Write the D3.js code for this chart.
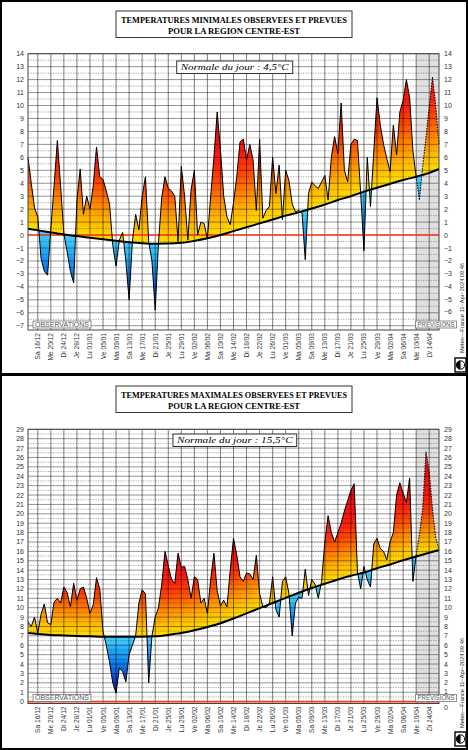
<!DOCTYPE html>
<html><head><meta charset="utf-8">
<script src="https://cdn.jsdelivr.net/npm/d3@7"></script>
<style>body{margin:0;background:#fff} svg{display:block}</style>
</head><body>
<svg id="c" width="468" height="750"></svg>
<script>
// ---------- DATA ----------
const firstDay = -3;   // day index of first value (0 = 16/12/2023)
const lastDay = 123;
const forecastStart = 116;
const dateLabels = ["Sa 16/12","Me 20/12","Di 24/12","Je 28/12","Lu 01/01","Ve 05/01","Ma 09/01","Sa 13/01","Me 17/01","Di 21/01","Je 25/01","Lu 29/01","Ve 02/02","Ma 06/02","Sa 10/02","Me 14/02","Di 18/02","Je 22/02","Lu 26/02","Ve 01/03","Ma 05/03","Sa 09/03","Me 13/03","Di 17/03","Je 21/03","Lu 25/03","Ve 29/03","Ma 02/04","Sa 06/04","Me 10/04","Di 14/04"];
const tminValues = [6.0,4.0,2.1,1.4,-1.8,-2.8,-3.1,0.5,3.8,7.3,3.8,0.1,-1.3,-2.8,-3.7,2.7,5.1,1.6,3.0,2.0,3.8,6.8,4.5,4.3,3.4,2.4,-0.8,-2.4,-0.4,0.2,-2.0,-5.0,-0.5,1.6,0.4,3.0,4.5,-0.5,-2.0,-5.8,-0.6,2.9,4.5,3.6,3.4,3.0,-0.5,5.3,3.0,-0.4,3.5,5.0,0.0,1.0,0.9,-0.3,3.0,6.0,9.5,6.6,3.0,1.4,0.8,2.5,4.5,7.2,7.4,5.8,7.0,5.8,1.9,7.4,1.3,1.9,2.2,6.0,3.2,5.4,1.2,5.0,4.2,2.4,1.8,1.9,1.7,-1.9,3.2,4.1,3.8,3.6,4.1,4.6,2.7,6.0,7.6,6.3,10.2,5.0,4.1,7.0,7.4,7.3,3.2,-1.2,6.0,2.2,6.4,10.6,8.5,7.0,5.9,4.9,8.5,6.2,9.5,10.4,12.0,10.6,6.5,4.5,2.7,5.3,7.5,9.9,12.2,10.0,7.0];
const tmaxValues = [8.5,8.0,9.0,7.3,9.3,10.4,8.4,8.2,10.6,11.0,10.5,12.2,11.6,10.1,12.6,10.8,12.0,12.2,11.0,9.4,10.3,13.2,12.0,7.5,6.0,4.2,2.0,0.9,3.6,3.2,2.1,5.0,6.0,7.0,10.5,11.9,11.5,2.0,7.0,9.0,10.0,12.5,16.0,14.5,13.0,12.6,15.8,14.3,14.4,13.0,11.0,13.3,13.0,10.5,11.0,9.4,13.0,15.8,11.8,10.2,10.8,10.1,14.0,17.4,15.6,13.3,12.8,13.7,13.6,13.0,15.6,11.5,10.1,10.0,10.4,13.3,9.8,9.0,12.8,13.3,11.5,7.0,10.5,11.1,11.0,14.1,11.3,13.0,12.5,11.0,12.8,17.0,19.8,18.0,17.0,18.0,19.0,20.3,21.4,22.5,23.2,13.8,12.0,14.4,13.0,12.2,16.8,17.4,16.3,16.0,15.1,17.0,18.0,22.0,23.3,22.2,21.2,23.8,12.8,15.6,17.8,20.5,26.6,24.5,20.5,17.4,16.2];
const normalDays = [-3,0,4,8,12,16,20,24,28,32,36,40,44,48,52,56,60,64,68,72,76,80,84,88,92,96,100,104,108,112,116,120,123];
const tminNormal = [0.48,0.36,0.2,0.05,-0.08,-0.2,-0.32,-0.44,-0.55,-0.63,-0.67,-0.66,-0.6,-0.45,-0.25,0.0,0.3,0.6,0.9,1.2,1.5,1.75,2.05,2.35,2.7,3.0,3.35,3.65,3.95,4.25,4.5,4.8,5.1];
const tmaxNormal = [7.3,7.2,7.1,7.05,7.0,6.95,6.9,6.9,6.9,6.9,6.95,7.1,7.3,7.6,7.95,8.35,8.85,9.4,9.95,10.5,11.05,11.6,12.1,12.55,13.0,13.4,13.75,14.2,14.6,15.05,15.45,15.85,16.15];
const tminTicks = d3.range(-7, 15);
const tmaxTicks = d3.range(0, 30);

// ---------- DRAW ----------
const svg = d3.select("#c");
const X0 = 28, X1 = 439;
const xs = d3.scaleLinear().domain([firstDay, lastDay]).range([X0, X1]);
const warm = d3.scaleLinear().domain([0,1.5,3,4.5,6,9,10.5,12]).range(["#ffe000","#ffb400","#ff7c00","#ff4000","#ff1810","#e80a0a","#f03030","#ff7a7a"]).clamp(true);
const cold = d3.scaleLinear().domain([0,-2,-4,-6,-7]).range(["#44d4ff","#1898f4","#0858e4","#1c14c0","#2a0aa8"]).clamp(true);

function drawChart(o) {
  const g = svg.append("g");
  const ys = d3.scaleLinear().domain(o.yDomain).range(o.yRange);
  const yTop = o.yRange[1], yBot = o.yRange[0];
  const pts = o.values.map((v, i) => ({d: firstDay + i, v}));
  const npts = normalDays.map((d, i) => ({d, n: o.normal[i]}));
  const curve = d3.curveMonotoneX;
  const defs = g.append("defs");

  // plot background + forecast shading
  g.append("rect").attr("x", X0).attr("y", yTop).attr("width", X1 - X0).attr("height", yBot - yTop).attr("fill", "#fff");
  g.append("rect").attr("x", xs(forecastStart)).attr("y", yTop).attr("width", X1 - xs(forecastStart)).attr("height", yBot - yTop).attr("fill", "#e0e0e0");

  // clip paths
  const mk = (id, pathD) => defs.append("clipPath").attr("id", id).append("path").attr("d", pathD);
  mk(o.id + "above", d3.area().x(p => xs(p.d)).y0(yTop - 5).y1(p => ys(p.n)).curve(curve)(npts));
  mk(o.id + "below", d3.area().x(p => xs(p.d)).y0(yBot + 5).y1(p => ys(p.n)).curve(curve)(npts));
  mk(o.id + "under", d3.area().x(p => xs(p.d)).y0(yBot + 5).y1(p => ys(p.v))(pts));
  mk(o.id + "over", d3.area().x(p => xs(p.d)).y0(yTop - 5).y1(p => ys(p.v))(pts));

  const s = 0.2;
  const gw = g.append("g").attr("clip-path", `url(#${o.id}above)`).append("g").attr("clip-path", `url(#${o.id}under)`);
  for (let k = 0; k < 70; k++) {
    gw.append("path").attr("fill", warm(k * s + s / 2))
      .attr("d", d3.area().x(p => xs(p.d)).y0(p => ys(p.n + k * s - 0.03)).y1(p => ys(p.n + (k + 1) * s + 0.03)).curve(curve)(npts));
  }
  const gc = g.append("g").attr("clip-path", `url(#${o.id}below)`).append("g").attr("clip-path", `url(#${o.id}over)`);
  for (let k = 0; k < 45; k++) {
    gc.append("path").attr("fill", cold(-(k * s + s / 2)))
      .attr("d", d3.area().x(p => xs(p.d)).y0(p => ys(p.n - k * s + 0.03)).y1(p => ys(p.n - (k + 1) * s - 0.03)).curve(curve)(npts));
  }

  // grid
  const grid = g.append("g");
  const dmax = o.yDomain[1];
  o.ticks.forEach(t => {
    grid.append("line").attr("x1", X0).attr("x2", X1).attr("y1", ys(t)).attr("y2", ys(t))
      .attr("stroke", "#000").attr("stroke-opacity", 0.42).attr("stroke-width", 1);
    if (t + 0.5 <= dmax) grid.append("line").attr("x1", X0).attr("x2", X1).attr("y1", ys(t + 0.5)).attr("y2", ys(t + 0.5))
      .attr("stroke", "#000").attr("stroke-opacity", 0.45).attr("stroke-width", 0.8).attr("stroke-dasharray", "1.2,1.3");
  });
  dateLabels.forEach((lab, i) => {
    const x = xs(i * 4);
    grid.append("line").attr("x1", x).attr("x2", x).attr("y1", yTop).attr("y2", yBot)
      .attr("stroke", "#000").attr("stroke-opacity", 0.5).attr("stroke-width", 1);
  });

  // zero line
  g.append("line").attr("x1", X0).attr("x2", X1).attr("y1", ys(0)).attr("y2", ys(0))
    .attr("stroke", "#ff3a10").attr("stroke-width", 1.6);

  // normal line
  g.append("path").attr("d", d3.line().x(p => xs(p.d)).y(p => ys(p.n)).curve(curve)(npts))
    .attr("fill", "none").attr("stroke", "#000").attr("stroke-width", 2);

  // series outline (observed solid, forecast dotted)
  const line = d3.line().x(p => xs(p.d)).y(p => ys(p.v));
  g.append("path").attr("d", line(pts.filter(p => p.d <= forecastStart))).attr("fill", "none").attr("stroke", "#000").attr("stroke-width", 1);
  g.append("path").attr("d", line(pts.filter(p => p.d >= forecastStart))).attr("fill", "none").attr("stroke", "#000").attr("stroke-width", 1).attr("stroke-dasharray", "1.5,1.2");

  // plot border
  g.append("rect").attr("x", X0).attr("y", yTop).attr("width", X1 - X0).attr("height", yBot - yTop)
    .attr("fill", "none").attr("stroke", "#444").attr("stroke-width", 1);

  // y labels both sides (the lowest right label sits just under the PREVISIONS box)
  o.ticks.forEach((t, i) => {
    const lab = String(t).replace("-", "\u2212");
    g.append("text").attr("x", 24).attr("y", ys(t) + 2.5).attr("text-anchor", "end")
      .attr("font-family", "Liberation Sans, Arial, sans-serif").attr("font-size", 7).attr("fill", "#333")
      .text(lab);
    if (i === 0 && !o.showLowRight) return;
    g.append("text").attr("x", 444).attr("y", i === 0 ? ys(t) + 8.5 : (i === 1 ? ys(t) + 1.5 : ys(t) + 2.5)).attr("text-anchor", "start")
      .attr("font-family", "Liberation Sans, Arial, sans-serif").attr("font-size", 7).attr("fill", "#333")
      .text(lab);
  });

  // x labels
  dateLabels.forEach((lab, i) => {
    const x = xs(i * 4) + 2.5, y = yBot + 3;
    g.append("text").attr("transform", `translate(${x},${y}) rotate(-90)`).attr("text-anchor", "end")
      .attr("font-family", "Liberation Sans, Arial, sans-serif").attr("font-size", 6.6).attr("fill", "#333")
      .attr("font-style", i === dateLabels.length - 1 ? "italic" : "normal")
      .text(lab);
  });

  // OBSERVATIONS / PREVISIONS boxes
  const smallBox = (x, w, txt) => {
    g.append("rect").attr("x", x).attr("y", yBot - 9).attr("width", w).attr("height", 7)
      .attr("fill", "#fff").attr("stroke", "#777").attr("stroke-width", 0.8);
    g.append("text").attr("x", x + w / 2).attr("y", yBot - 3.2).attr("text-anchor", "middle")
      .attr("font-family", "Liberation Sans, Arial, sans-serif").attr("font-size", 6.6).attr("fill", "#555")
      .attr("textLength", w - 4).attr("lengthAdjust", "spacingAndGlyphs").text(txt);
  };
  smallBox(33, 58, "OBSERVATIONS");
  smallBox(415.5, 41, "PREVISIONS");

  // title box
  g.append("rect").attr("x", 116).attr("y", o.titleY).attr("width", 236).attr("height", 26.5)
    .attr("fill", "#fff").attr("stroke", "#333").attr("stroke-width", 1);
  g.append("text").attr("x", 234).attr("y", o.titleY + 12).attr("text-anchor", "middle")
    .attr("font-family", "Liberation Serif, Times New Roman, serif").attr("font-weight", "bold").attr("font-size", 8.4)
    .attr("textLength", 226).attr("lengthAdjust", "spacingAndGlyphs").text(o.title1);
  g.append("text").attr("x", 234).attr("y", o.titleY + 22.5).attr("text-anchor", "middle")
    .attr("font-family", "Liberation Serif, Times New Roman, serif").attr("font-weight", "bold").attr("font-size", 8.4)
    .attr("textLength", 132).attr("lengthAdjust", "spacingAndGlyphs").text("POUR LA REGION CENTRE-EST");

  // normale box
  g.append("rect").attr("x", o.nbox[0]).attr("y", o.nbox[1]).attr("width", o.nbox[2]).attr("height", 12.5)
    .attr("fill", "#fff").attr("stroke", "#333").attr("stroke-width", 1);
  g.append("text").attr("x", o.nbox[0] + o.nbox[2] / 2).attr("y", o.nbox[1] + 9).attr("text-anchor", "middle")
    .attr("font-family", "Liberation Serif, Times New Roman, serif").attr("font-style", "italic").attr("font-size", 8.6)
    .attr("textLength", o.nbox[2] - 8).attr("lengthAdjust", "spacingAndGlyphs").text(o.normText);

  // Meteo-France stamp
  g.append("text").attr("transform", `translate(464,${o.stampY}) rotate(-90)`).attr("text-anchor", "start")
    .attr("font-family", "Liberation Sans, Arial, sans-serif").attr("font-size", 5.6).attr("fill", "#222")
    .attr("textLength", 90).attr("lengthAdjust", "spacingAndGlyphs").text("Meteo\u2014France 11\u2212Apr\u22122024 09:46");
  // logo
  const lg = g.append("g").attr("transform", `translate(${455},${o.logoY})`);
  lg.append("rect").attr("x", 0).attr("y", 0).attr("width", 11).attr("height", 14).attr("fill", "#fff").attr("stroke", "#000").attr("stroke-width", 1.4);
  lg.append("circle").attr("cx", 5.5).attr("cy", 7).attr("r", 4.2).attr("fill", "#fff").attr("stroke", "#000").attr("stroke-width", 1);
  lg.append("path").attr("d", "M5.5,2.8 A4.2,4.2 0 0,0 5.5,11.2 Z").attr("fill", "#000");
}

drawChart({id: "tn", values: tminValues, normal: tminNormal, yDomain: [-7.33, 14], yRange: [330, 53.7], ticks: tminTicks,
  titleY: 11, title1: "TEMPERATURES MINIMALES OBSERVEES ET PREVUES", nbox: [176.7, 61, 116], normText: "Normale du jour : 4,5\u00B0C",
  stampY: 353, logoY: 358, showLowRight: false});
drawChart({id: "tx", values: tmaxValues, normal: tmaxNormal, yDomain: [-0.2, 29], yRange: [703.5, 429.3], ticks: tmaxTicks,
  titleY: 386, title1: "TEMPERATURES MAXIMALES OBSERVEES ET PREVUES", nbox: [173, 434, 123.7], normText: "Normale du jour : 15,5\u00B0C",
  stampY: 728, logoY: 732, showLowRight: true});

// frames
svg.append("rect").attr("x", 1).attr("y", 1).attr("width", 466).attr("height", 748).attr("fill", "none").attr("stroke", "#000").attr("stroke-width", 2);
svg.append("line").attr("x1", 0).attr("x2", 468).attr("y1", 374.5).attr("y2", 374.5).attr("stroke", "#000").attr("stroke-width", 3);
</script>
</body></html>
